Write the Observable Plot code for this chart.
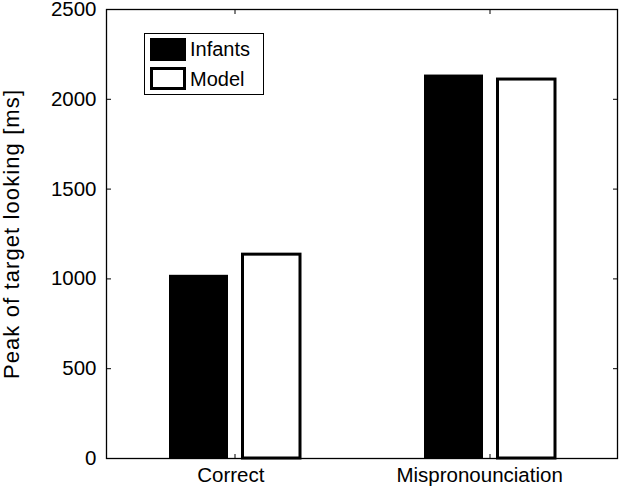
<!DOCTYPE html>
<html>
<head>
<meta charset="utf-8">
<script src="https://cdn.jsdelivr.net/npm/d3@7"></script>
<script src="https://cdn.jsdelivr.net/npm/@observablehq/plot@0.6"></script>
<style>
  html, body { margin: 0; padding: 0; background: #fff; }
  #wrap { position: relative; width: 619px; height: 488px; font-family: "Liberation Sans", Arial, sans-serif; }
  #legend { position: absolute; left: 144px; top: 33px; width: 120px; height: 62px; border: 1.3px solid #000; background: #fff; box-sizing: border-box; }
  .sw { position: absolute; left: 5px; width: 36px; height: 23px; box-sizing: border-box; }
  .lab { position: absolute; left: 45px; font-size: 20px; line-height: 20px; color: #000; }
</style>
</head>
<body>
<div id="wrap"></div>
<script>
const categories = ["Correct", "Mispronounciation"];
const series = ["Infants", "Model"];
const infantsValues = [1020, 2135];
const modelValues = [1135, 2110];
const yTicks = [0, 500, 1000, 1500, 2000, 2500];
const yLabel = "Peak of target looking [ms]";

const infantsRows = categories.map((c, i) => ({category: c, series: series[0], value: infantsValues[i]}));
const modelRows = categories.map((c, i) => ({category: c, series: series[1], value: modelValues[i]}));

const chart = Plot.plot({
  width: 619,
  height: 488,
  marginLeft: 106,
  marginRight: 2,
  marginTop: 9,
  marginBottom: 30,
  style: {fontFamily: '"Liberation Sans", Arial, sans-serif', fontSize: "20px", color: "#000", background: "#fff", overflow: "visible"},
  x: {type: "band", domain: categories, paddingInner: 0, paddingOuter: 0},
  y: {domain: [0, 2500]},
  marks: [
    Plot.barY(infantsRows, {x: "category", y: "value", fill: "#000", insetLeft: 62, insetRight: 134}),
    Plot.barY(modelRows, {x: "category", y: "value", fill: "#fff", stroke: "#000", strokeWidth: 3, insetLeft: 135.5, insetRight: 62}),
    Plot.frame({stroke: "#000", strokeWidth: 1.3}),
    Plot.axisY({ticks: yTicks, tickFormat: d3.format("d"), tickSize: -5, tickPadding: 15, label: null, fontSize: 20.5}),
    Plot.axisY({anchor: "right", ticks: yTicks, tickSize: -5, text: null, label: null}),
    Plot.axisX({tickSize: -4, tickPadding: 13, label: null, fontSize: 20.5}),
    Plot.axisX({anchor: "top", tickSize: -4, text: null, label: null}),
    Plot.text([yLabel], {text: d => d, frameAnchor: "left", textAnchor: "middle", rotate: -90, dx: -95, fontSize: 22, fill: "#000"})
  ]
});

const wrap = document.getElementById("wrap");
wrap.appendChild(chart);

// The reference's labels are laid out slightly wider than their glyphs (MATLAB-style)
d3.select(chart).selectAll('g[aria-label="x-axis tick label"] text').each(function() {
  const L = this.getComputedTextLength();
  const t = this.getAttribute("transform") || "";
  this.setAttribute("transform", t + ` translate(${-0.0625 * L},0)`);
});
d3.select(chart).selectAll("text").filter(function() { return this.textContent === yLabel; })
  .style("letter-spacing", "1.1px");

const legend = document.createElement("div");
legend.id = "legend";
legend.innerHTML = `
  <div class="sw" style="top:4px;background:#000;"></div>
  <div class="lab" style="top:5px;">${series[0]}</div>
  <div class="sw" style="top:33px;background:#fff;border:3px solid #000;"></div>
  <div class="lab" style="top:35px;">${series[1]}</div>`;
wrap.appendChild(legend);
</script>
</body>
</html>
